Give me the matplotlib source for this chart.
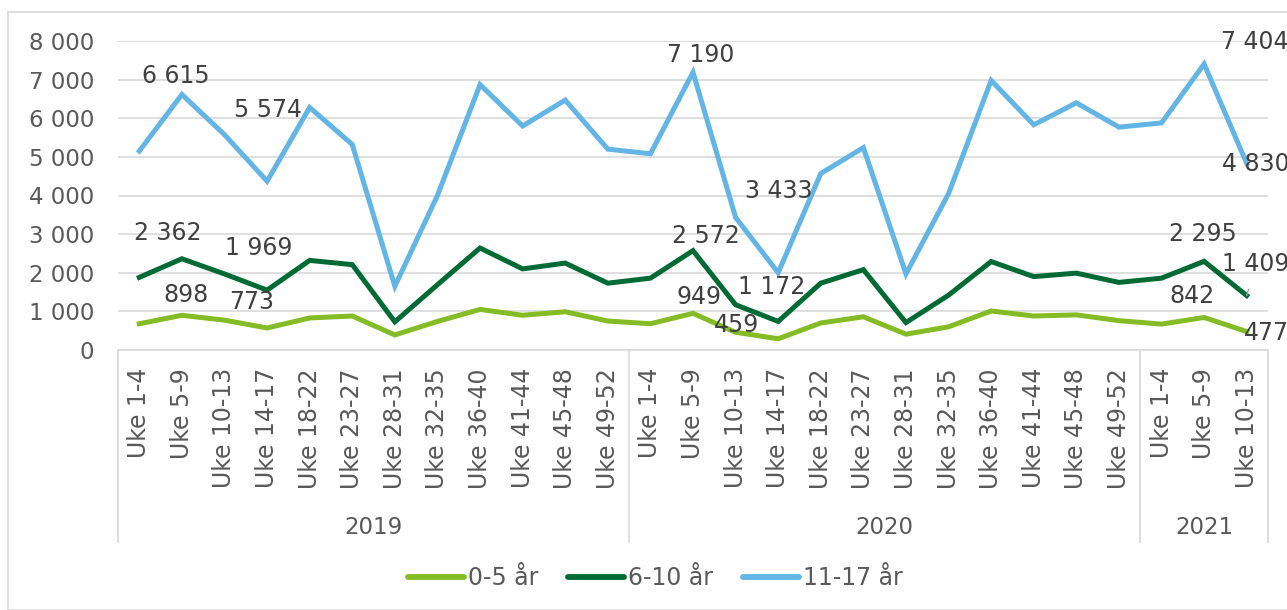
import matplotlib
matplotlib.use("Agg")
import matplotlib.pyplot as plt
from matplotlib.patches import Rectangle
import matplotlib.transforms as mtransforms

# data
years = ["2019", "2020", "2021"]
weeks_per_year = [12, 12, 3]
weeks = ["Uke 1-4", "Uke 5-9", "Uke 10-13", "Uke 14-17", "Uke 18-22", "Uke 23-27",
         "Uke 28-31", "Uke 32-35", "Uke 36-40", "Uke 41-44", "Uke 45-48", "Uke 49-52"]
categories = weeks + weeks + weeks[:3]

age_0_5 = [680, 898, 773, 570, 830, 880, 390, 740, 1050, 900, 990, 750,
           680, 949, 459, 290, 700, 860, 410, 600, 1010, 880, 910, 760,
           670, 842, 477]
age_6_10 = [1880, 2362, 1969, 1550, 2320, 2210, 730, 1690, 2640, 2100, 2250, 1730,
            1860, 2572, 1172, 740, 1730, 2080, 710, 1420, 2290, 1900, 1990, 1750,
            1860, 2295, 1409]
age_11_17 = [5150, 6615, 5574, 4370, 6280, 5320, 1650, 4000, 6870, 5800, 6470, 5200,
             5080, 7190, 3433, 2000, 4570, 5240, 1970, 4050, 6980, 5830, 6400, 5770,
             5880, 7404, 4830]

series = [("0-5 år", age_0_5, "#84BC25"),
          ("6-10 år", age_6_10, "#006A35"),
          ("11-17 år", age_11_17, "#63B5E5")]

# label positions (offset in pixels from the point)
label_offsets = {
    "0-5 år": {1: (4, 20), 2: (27, 18), 13: (6, 16), 14: (1, 7), 25: (-12, 21), 26: (20, -1)},
    "6-10 år": {1: (-14, 26), 2: (34, 26), 13: (13, 15), 14: (36, 18), 25: (-1, 27), 26: (9, 32)},
    "11-17 år": {1: (-6, 18), 2: (44, 25), 13: (8, 17), 14: (43, 26), 25: (51, 22), 26: (9, -1)},
}

fig = plt.figure(figsize=(12.87, 6.10), dpi=100)
fig.patch.set_facecolor("white")
ax = fig.add_axes([118 / 1287, 1 - 350 / 610, 1150 / 1287, 309 / 610])

# outer chart border
fig.patches.append(Rectangle((8 / 1287, 0), 1.2, 1 - 12 / 610, transform=fig.transFigure,
                             fill=False, edgecolor="#D9D9D9", linewidth=1.2))

x = list(range(len(categories)))
for name, vals, col in series:
    ax.plot(x, vals, color=col, linewidth=3.6, solid_joinstyle="miter", label=name, clip_on=False)
    for i, (dx, dy) in label_offsets[name].items():
        txt = f"{vals[i]:,}".replace(",", " ")
        kw = {}
        if name == "6-10 år" and i == 26:
            kw["arrowprops"] = dict(arrowstyle="-", color="#A6A6A6", lw=1,
                                    shrinkA=8, shrinkB=0)
        ax.annotate(txt, (i, vals[i]), xytext=(dx, dy), textcoords="offset pixels",
                    ha="center", va="center", fontsize=17, color="#404040",
                    annotation_clip=False, **kw)

ax.set_xlim(-0.5, len(categories) - 0.5)
ax.set_ylim(0, 8000)
ax.set_yticks(range(0, 8001, 1000))
ax.set_yticklabels([f"{v:,}".replace(",", " ") for v in range(0, 8001, 1000)])
ax.grid(axis="y", color="#D9D9D9", linewidth=1.2)
ax.set_axisbelow(True)
for s in ["top", "right", "left"]:
    ax.spines[s].set_visible(False)
ax.spines["bottom"].set_color("#D9D9D9")
ax.spines["bottom"].set_linewidth(1.2)

ax.set_xticks(x)
ax.set_xticklabels(categories, rotation=90, fontsize=17)
ax.tick_params(axis="x", length=0, pad=13, colors="#595959")
ax.tick_params(axis="y", length=0, pad=17, labelsize=16.5, colors="#595959")

# year groups under the category labels
trans = mtransforms.blended_transform_factory(ax.transData, ax.transAxes)
edges = [-0.5]
for n in weeks_per_year:
    edges.append(edges[-1] + n)
for e in edges:
    ax.plot([e, e], [0, -0.621], transform=trans, color="#D9D9D9", linewidth=1.2, clip_on=False)
for yr, a, b in zip(years, edges[:-1], edges[1:]):
    ax.text((a + b) / 2, -0.575, yr, transform=trans, ha="center", va="center",
            fontsize=16.5, color="#595959")

leg = fig.legend(loc="center", bbox_to_anchor=(0.509, 1 - 578 / 610), ncol=3, frameon=False,
                 fontsize=17, handlelength=2.4, handletextpad=0.15, columnspacing=1.25,
                 labelcolor="#595959")
for line in leg.get_lines():
    line.set_linewidth(4.2)
    line.set_solid_capstyle("round")

plt.savefig("out.png", dpi=100)
